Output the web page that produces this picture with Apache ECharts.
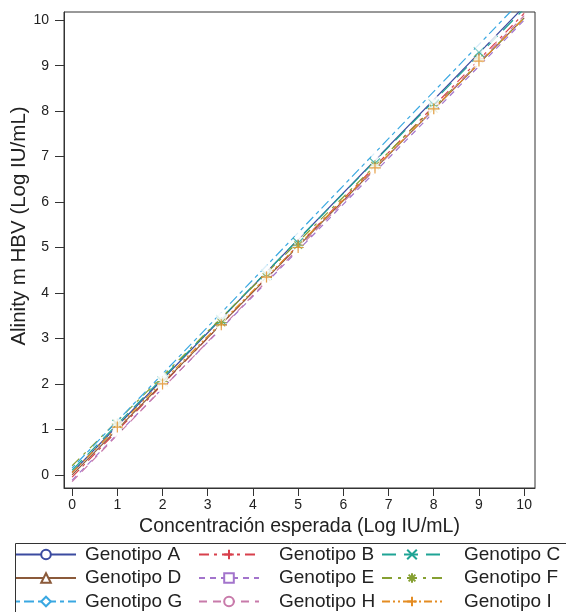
<!DOCTYPE html>
<html>
<head>
<meta charset="utf-8">
<script src="https://cdn.jsdelivr.net/npm/echarts@6/dist/echarts.min.js"></script>
<style>html,body{margin:0;padding:0;background:#fff}#c{width:566px;height:612px}</style>
</head>
<body>
<div id="c"></div>
<script>
const names = ['Genotipo A','Genotipo B','Genotipo C','Genotipo D','Genotipo E','Genotipo F','Genotipo G','Genotipo H','Genotipo I'];
const ticks = [0,1,2,3,4,5,6,7,8,9,10];
// regression line endpoints (x=0 and x=10)
const lineX = [0, 10];
const lineStartY = [0.05, -0.05, 0.10, 0.00, -0.12, 0.20, 0.15, -0.15, 0.05];
const lineEndY   = [10.30, 10.15, 10.25, 10.05, 10.00, 10.05, 10.50, 10.10, 10.05];
// observed points
const ptsA = [[1,1.05],[2,2.15],[3.3,3.45],[4.3,4.40],[5,5.15],[6.7,6.90],[8,8.15],[9,9.30],[9.3,9.60]];
const ptsB = [[1,1.00],[2,2.00],[3.3,3.30],[4.3,4.35],[5,5.05],[6.7,6.75],[8,8.05],[9,9.15]];
const ptsC = [[1,1.10],[2,2.05],[3.3,3.40],[4.3,4.40],[5,5.10],[6.7,6.85],[8,8.15],[9,9.30]];
const ptsD = [[1,1.00],[2,1.95],[3.3,3.30],[4.3,4.30],[5,5.00],[6.7,6.72],[8,7.97],[9,9.10]];
const ptsE = [[1,0.97],[2,1.92],[3.3,3.20],[4.3,4.25],[5,4.95],[6.7,6.70],[8,7.97],[9,9.05]];
const ptsF = [[1,1.12],[2,2.05],[3.3,3.35],[4.3,4.35],[5,5.05],[6.7,6.80],[8,8.05],[9,9.15]];
const ptsG = [[1,1.15],[2,2.13],[3.3,3.50],[4.3,4.50],[5,5.30],[6.7,7.05],[8,8.27],[9,9.43]];
const ptsH = [[1,0.93],[2,1.95],[3.3,3.15],[4.3,4.25],[5,4.87],[6.7,6.72],[8,8.00],[9,9.10]];
const ptsI = [[1,1.05],[2,2.00],[3.3,3.30],[4.3,4.35],[5,5.00],[6.7,6.75],[8,8.05],[9,9.10]];
const points = [ptsA, ptsB, ptsC, ptsD, ptsE, ptsF, ptsG, ptsH, ptsI];

const colors = ['#3B4BA0','#D8404C','#1FA495','#8B5A3A','#A374CC','#86A032','#3AA8E2','#C87AAA','#E48C22'];
const dashes = ['solid',[10,5,3,5],[14,8],'solid',[6,5],[10,6,3,6],[4,4,10,4],[8,6],[8,3,2,3,2,3]];
const symbols = ['emptyCircle','path://M5,0L5,10M0,5L10,5','path://M0,0L10,10M0,10L10,0','emptyTriangle','emptyRect',
  'path://M5,0L5,10M0,5L10,5M1.5,1.5L8.5,8.5M1.5,8.5L8.5,1.5','emptyDiamond','emptyCircle','path://M5,0L5,10M0,5L10,5'];
const symSizes = [10,11,10,10,9,11,12,11,11];

const series = [];
names.forEach((n,i)=>{
  series.push({
    name:n, type:'line', data:[[lineX[0],lineStartY[i]],[lineX[1],lineEndY[i]]],
    showSymbol:false, symbol:symbols[i], symbolSize:symSizes[i],
    lineStyle:{color:colors[i], width:1.2, type:dashes[i]},
    itemStyle:{color:colors[i], borderColor:colors[i], borderWidth:1.2},
    z:2, silent:true, animation:false
  });
});
names.forEach((n,i)=>{
  series.push({
    name:n, type:'scatter', data:points[i], symbol:symbols[i], symbolSize:symSizes[i],
    itemStyle:{color:'rgba(255,255,255,0)', borderColor:colors[i], borderWidth:1.2},
    z:3, animation:false
  });
});

const axisFont = {fontFamily:'Liberation Sans', fontSize:14, color:'#222'};
const legendBase = (data,left,pad)=>({
  data, left, top:545, padding:0, orient:'vertical', itemWidth:60, itemHeight:12, itemGap:4.5,
  textStyle:{fontFamily:'Liberation Sans', fontSize:19, color:'#222', lineHeight:19, padding:[0,0,0,pad]},
  selectedMode:false
});

const chart = echarts.init(document.getElementById('c'), null, {renderer:'canvas'});
chart.setOption({
  backgroundColor:'#fff',
  animation:false,
  grid:{left:64, right:31, top:12, bottom:124, show:true, borderColor:'#333', borderWidth:1},
  xAxis:{type:'value', min:-0.18, max:10.24,
    name:'Concentración esperada (Log IU/mL)', nameLocation:'middle', nameGap:29,
    nameTextStyle:{fontFamily:'Liberation Sans', fontSize:19.5, color:'#222'},
    axisLine:{onZero:false, lineStyle:{color:'#333'}},
    axisTick:{customValues:ticks, length:8, lineStyle:{color:'#333'}},
    axisLabel:{customValues:ticks, margin:10, ...axisFont},
    splitLine:{show:false}},
  yAxis:{type:'value', min:-0.29, max:10.18,
    axisLine:{onZero:false, lineStyle:{color:'#333'}},
    axisTick:{customValues:ticks, length:9, lineStyle:{color:'#333'}},
    axisLabel:{customValues:ticks, margin:15, ...axisFont},
    splitLine:{show:false}},
  legend:[
    legendBase(['Genotipo A','Genotipo D','Genotipo G'],15,4),
    legendBase(['Genotipo B','Genotipo E','Genotipo H'],198,15),
    legendBase(['Genotipo C','Genotipo F','Genotipo I'],381,17)
  ],
  graphic:[
    {type:'rect', left:13, top:541, shape:{width:600, height:90},
      style:{fill:'none', stroke:'#333', lineWidth:1}, silent:true},
    {type:'text', x:19, y:226, rotation:Math.PI/2,
      style:{text:'Alinity m HBV (Log IU/mL)', fontFamily:'Liberation Sans', fontSize:20.5, fill:'#222',
        textAlign:'center', textVerticalAlign:'middle'}, silent:true}
  ],
  series
});
</script>
</body>
</html>
